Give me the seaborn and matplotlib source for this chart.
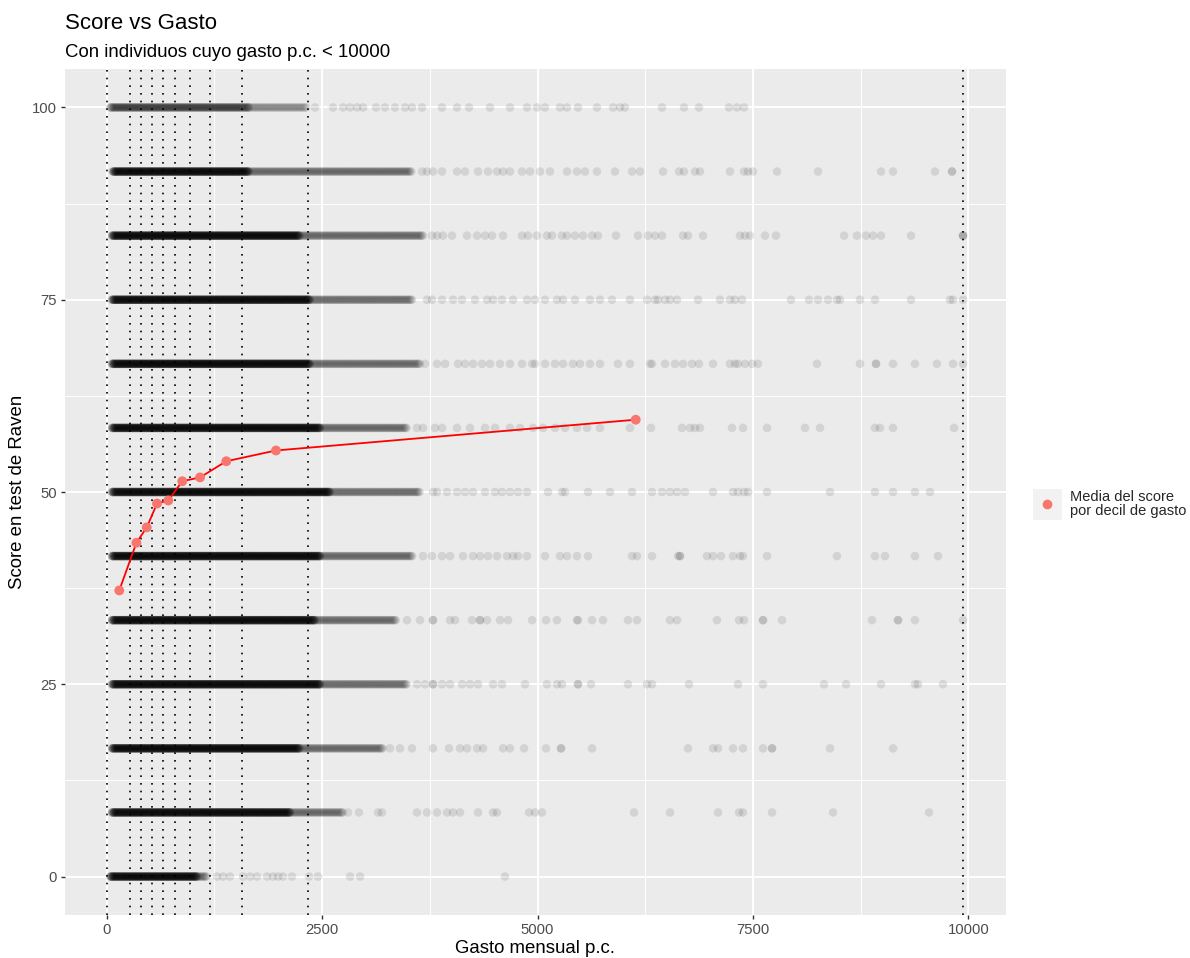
import numpy as np
import pandas as pd
import matplotlib
matplotlib.use("Agg")
import matplotlib.pyplot as plt
import seaborn as sns
from matplotlib.patches import Rectangle
from matplotlib.lines import Line2D

# ---------------- data ----------------
score_levels = [0, 8.333, 16.667, 25, 33.333, 41.667, 50, 58.333, 66.667, 75, 83.333, 91.667, 100]
# dense band per score level: start, end of solid part, end of semi-dense part
band_start = [40, 60, 60, 60, 60, 60, 60, 60, 60, 60, 60, 70, 40]
solid_end = [1050, 2130, 2240, 2480, 2420, 2480, 2590, 2480, 2360, 2360, 2240, 1650, 1650]
medium_end = [1164, 2742, 3207, 3485, 3369, 3555, 3636, 3485, 3636, 3555, 3671, 3543, 2327]
solid_step = [4, 4, 4, 4, 4, 4, 4, 4, 4, 4, 4, 4, 8]
medium_step = [12, 13, 13, 13, 13, 13, 13, 13, 13, 13, 13, 13, 18]

sparse_0 = [1280, 1350, 1431, 1582, 1664, 1745, 1861, 1930, 1988, 2046, 2151, 2348, 2452, 2825, 2941, 4622]
sparse_8 = [2800, 2928, 3149, 3195, 3601, 3717, 3834, 3950, 4019, 4101, 4310, 4484, 4530, 4902, 4971,
            5052, 6120, 6538, 7095, 7339, 7385, 7722, 8430, 9544]
sparse_16 = [3288, 3404, 3543, 3787, 3973, 4101, 4182, 4298, 4368, 4600, 4681, 4844, 5099, 5273, 5273,
             5633, 6747, 7037, 7095, 7269, 7385, 7617, 7722, 7722, 8395, 9126]
sparse_25 = [3601, 3694, 3787, 3787, 3892, 3985, 4124, 4217, 4310, 4484, 4588, 4855, 5110, 5226, 5284,
             5470, 5470, 5621, 6050, 6271, 6329, 6758, 7327, 7617, 8325, 8581, 8987, 9381, 9416, 9706]
sparse_33 = [3485, 3636, 3787, 3787, 3985, 4043, 4240, 4333, 4333, 4414, 4565, 4658, 4937, 5099, 5226,
             5458, 5470, 5633, 5760, 6050, 6155, 6538, 6619, 7083, 7339, 7397, 7617, 7617, 7838,
             8882, 9184, 9184, 9381, 9939]
sparse_41 = [3671, 3775, 3892, 3985, 4136, 4252, 4333, 4426, 4530, 4646, 4716, 4774, 4878, 5087, 5261,
             5342, 5458, 5586, 6097, 6155, 6329, 6631, 6654, 6654, 6967, 7037, 7130, 7269, 7350, 7385,
             7664, 8476, 8917, 9033, 9381, 9648]
sparse_50 = [3787, 3834, 3950, 4066, 4159, 4252, 4391, 4507, 4588, 4681, 4774, 4878, 5122, 5284, 5319,
             5586, 5841, 6097, 6329, 6445, 6538, 6619, 6712, 7037, 7269, 7327, 7397, 7443, 7664,
             8395, 8917, 9126, 9381, 9555]
sparse_58 = [3601, 3671, 3810, 3892, 4066, 4217, 4391, 4507, 4681, 4797, 4948, 5064, 5203, 5319, 5458,
             5575, 5725, 6073, 6317, 6677, 6770, 6828, 6886, 7257, 7385, 7664, 8105, 8279, 8917,
             8975, 9126, 9834]
sparse_66 = [3694, 3834, 3927, 4078, 4159, 4252, 4356, 4449, 4565, 4681, 4820, 4937, 4971, 5087, 5203,
             5296, 5412, 5493, 5609, 5725, 5934, 6073, 6306, 6329, 6480, 6596, 6689, 6793, 6874,
             7037, 7234, 7292, 7327, 7408, 7490, 7559, 8244, 8743, 8929, 8929, 9126, 9381, 9636,
             9822, 9939]
sparse_75 = [3717, 3775, 3892, 4019, 4124, 4275, 4414, 4484, 4588, 4716, 4878, 4971, 5087, 5226, 5296,
             5435, 5609, 5725, 5864, 6073, 6271, 6364, 6399, 6480, 6538, 6619, 6863, 7118, 7234,
             7292, 7373, 7942, 8151, 8256, 8372, 8476, 8511, 8743, 8917, 9335, 9787, 9822, 9939]
sparse_83 = [3775, 3834, 3903, 4008, 4182, 4298, 4391, 4472, 4600, 4820, 4890, 4994, 5110, 5168, 5284,
             5342, 5435, 5528, 5633, 5702, 5911, 6166, 6283, 6364, 6445, 6689, 6747, 6921, 7350,
             7408, 7466, 7640, 7768, 8558, 8708, 8813, 8894, 8987, 9335, 9939, 9939, 9939]
sparse_91 = [3660, 3717, 3787, 3892, 4066, 4159, 4310, 4426, 4530, 4600, 4681, 4820, 4913, 5029, 5145,
             5342, 5458, 5551, 5690, 5899, 6097, 6190, 6457, 6642, 6700, 6828, 6886, 7234, 7397,
             7443, 7501, 7780, 8256, 8987, 9126, 9613, 9811, 9811]
sparse_100 = [2418, 2627, 2743, 2825, 2906, 2976, 3126, 3230, 3346, 3462, 3543, 3660, 3892, 4066, 4205,
              4449, 4681, 4878, 4994, 5087, 5261, 5342, 5470, 5690, 5876, 5957, 6015, 6445, 6700,
              6874, 7222, 7315, 7397]
sparse_by_level = [sparse_0, sparse_8, sparse_16, sparse_25, sparse_33, sparse_41, sparse_50,
                   sparse_58, sparse_66, sparse_75, sparse_83, sparse_91, sparse_100]

decile_cuts = [7, 274, 402, 526, 650, 789, 970, 1202, 1573, 2339, 9938]
decile_mean_gasto = [146, 345, 465, 584, 715, 877, 1083, 1388, 1965, 6140]
decile_mean_score = [37.2, 43.4, 45.4, 48.5, 48.9, 51.4, 51.9, 54.0, 55.4, 59.4]

x_ticks = [0, 2500, 5000, 7500, 10000]
y_ticks = [0, 25, 50, 75, 100]

title = "Score vs Gasto"
subtitle = "Con individuos cuyo gasto p.c. < 10000"
x_label = "Gasto mensual p.c."
y_label = "Score en test de Raven"
legend_label = "Media del score\npor decil de gasto"

# ---------------- build scatter table ----------------
xs, ys = [], []
for i, lvl in enumerate(score_levels):
    solid = np.arange(band_start[i], solid_end[i], solid_step[i])
    medium = np.arange(solid_end[i], medium_end[i], medium_step[i])
    pts = np.concatenate([solid, medium, np.array(sparse_by_level[i], dtype=float)])
    xs.append(pts)
    ys.append(np.full(len(pts), lvl))
df = pd.DataFrame({"gasto": np.concatenate(xs), "score": np.concatenate(ys)})
means = pd.DataFrame({"gasto": decile_mean_gasto, "score": decile_mean_score})

# ---------------- style ----------------
sns.set_theme(style="darkgrid", rc={
    "axes.facecolor": "#EBEBEB",
    "grid.color": "white",
    "axes.edgecolor": "#EBEBEB",
})
plt.rcParams["font.family"] = ["Liberation Sans", "DejaVu Sans"]

fig = plt.figure(figsize=(11.9, 9.58), dpi=100)
ax = fig.add_axes([65 / 1190, 1 - 915 / 958, (1005.7 - 65) / 1190, (915 - 69) / 958])

sns.scatterplot(data=df, x="gasto", y="score", ax=ax, color="black", alpha=0.1,
                s=38, linewidth=0, edgecolor="none", legend=False, zorder=2)

for c in decile_cuts:
    ax.axvline(c, color="black", linestyle=(0, (1, 3.6)), linewidth=1.2, zorder=3)

sns.lineplot(data=means, x="gasto", y="score", ax=ax, color="red", linewidth=1.3,
             sort=False, legend=False, zorder=4)
sns.scatterplot(data=means, x="gasto", y="score", ax=ax, color="#F8766D", s=50,
                linewidth=0, edgecolor="none", legend=False, zorder=5)

ax.set_xlim(-484, 10434)
ax.set_ylim(-5, 105)
ax.set_xticks(x_ticks)
ax.set_yticks(y_ticks)
ax.set_xticks([1250, 3750, 6250, 8750], minor=True)
ax.set_yticks([12.5, 37.5, 62.5, 87.5], minor=True)
ax.grid(which="major", color="white", linewidth=1.4)
ax.grid(which="minor", color="white", linewidth=0.7)
for s in ax.spines.values():
    s.set_visible(False)
ax.tick_params(axis="both", which="major", length=3.2, width=1.0, color="#333333",
               labelsize=10.7, labelcolor="#4D4D4D", pad=2.5, bottom=True, left=True)
ax.tick_params(axis="both", which="minor", length=0)

ax.set_xlabel(x_label, fontsize=13.4, color="black", va="baseline")
ax.xaxis.set_label_coords(535 / 1190, 1 - 953 / 958, transform=fig.transFigure)
ax.set_ylabel(y_label, fontsize=13.4, color="black", va="center", ha="center")
ax.yaxis.set_label_coords(18 / 1190, 1 - 492 / 958, transform=fig.transFigure)

fig.text(65 / 1190, 1 - 29 / 958, title, fontsize=16, color="black", va="baseline", ha="left")
fig.text(65 / 1190, 1 - 57 / 958, subtitle, fontsize=13.4, color="black", va="baseline", ha="left")

# legend with grey key background
fig.add_artist(Rectangle((1033 / 1190, 1 - 520 / 958), 29 / 1190, 31 / 958,
                         transform=fig.transFigure, facecolor="#F2F2F2", edgecolor="none",
                         zorder=-1))
handle = Line2D([], [], linestyle="none", marker="o", markersize=7,
                markerfacecolor="#F8766D", markeredgecolor="none")
leg = ax.legend([handle], [legend_label], loc="center left",
                bbox_to_anchor=(1032 / 1190, 1 - 504 / 958), bbox_transform=fig.transFigure,
                frameon=False, fontsize=10.5, handlelength=2.0, handletextpad=0.6,
                borderpad=0, borderaxespad=0)
for t in leg.get_texts():
    t.set_linespacing(1.0)

fig.savefig("out.png", dpi=100, facecolor="white")
